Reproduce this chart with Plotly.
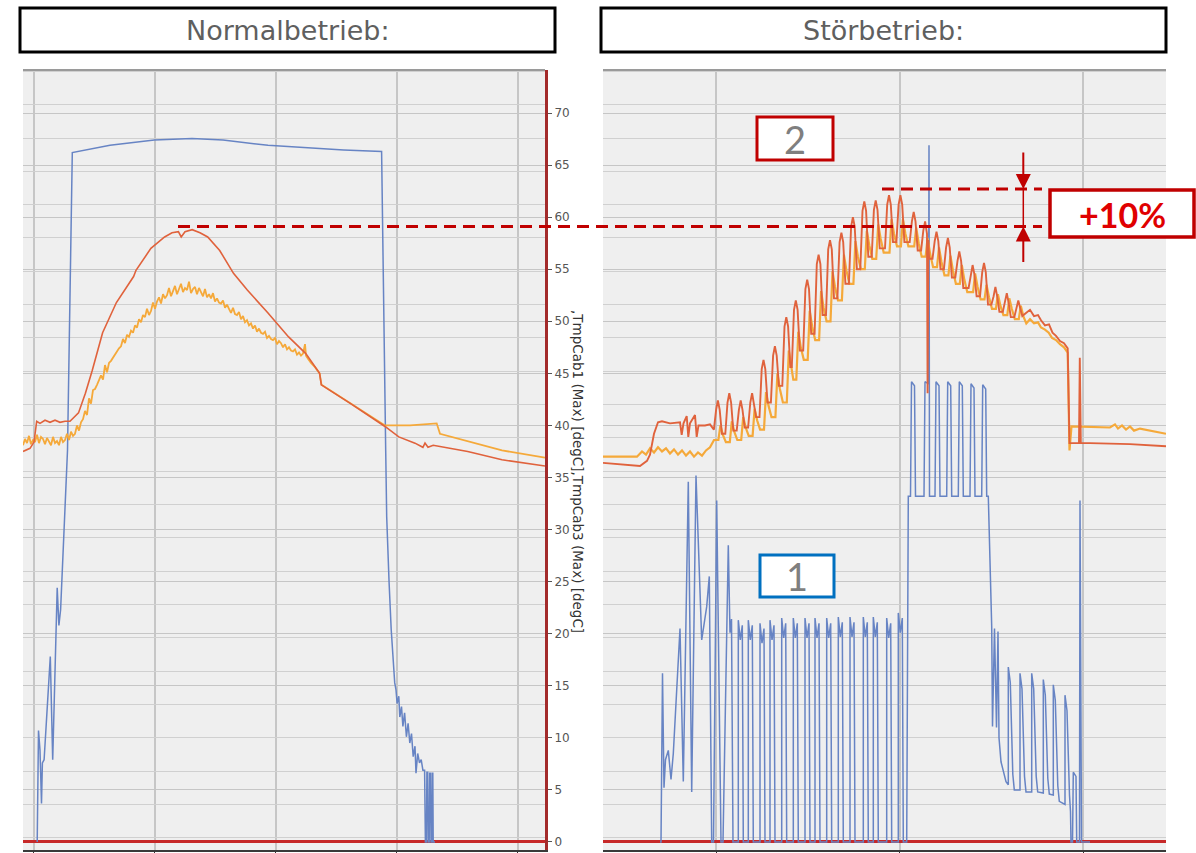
import plotly.graph_objects as go

W, H = 1196, 853

# ---------------- data: left panel "Normalbetrieb" (time, value) ----------------
left_blue = [(17.2,0),(18.5,10.7),(20,8.8),(21.5,3.7),(22.4,7.6),(24.1,7.9),(30.3,17.8),(32.7,7.9),
 (37.2,24.4),(38.9,20.8),(40.6,22.3),(47.5,37.6),(52.3,66.2),(90,66.9),(134.3,67.4),(172,67.55),
 (203,67.4),(248,66.9),(323.7,66.45),(361.6,66.3),(365.7,37.6),(366.7,31.2),(369.1,24.9),(371.2,20.4),
 (374.7,15.3),(376,14.6),(377.1,13.3),(378.8,14.0),(379.8,12.0),(381.5,13.0),(382.9,11.1),(384.6,12.4),
 (386.4,10.1),(388.1,11.4),(389.8,9.5),(391.5,10.4),(393.2,8.2),(395,9.2),(396,6.6),(397.7,8.5),
 (399.5,7.6),(401.2,7.9),(402.9,6.9),(404.6,6.9),(405.4,0),(406.4,0),(406.9,6.7),(407.7,6.7),(408.2,0),
 (409.2,0),(409.7,6.6),(410.5,6.6),(411,0),(411.9,0),(412.3,6.6),(412.8,6.6),(413.2,0),(415,0)]

left_red = [(3,37.5),(10,37.8),(14,38.4),(16.7,40.4),(20,40.2),(25,40.5),(30,40.3),(35,40.5),(40,40.3),
 (45,40.4),(50,40.4),(53,40.7),(58.5,41.2),(65.4,43.1),(72.3,45.3),(82.6,48.9),(96.4,51.8),(113.6,54.3),
 (116,54.9),(130.9,57.0),(144.6,58.1),(152,58.5),(158.4,58.6),(161.2,58.1),(165,58.6),(172.2,58.8),
 (180,58.5),(187.7,58.1),(199.7,56.8),(213.5,54.6),(227.3,53.0),(248,50.8),(268.6,48.5),(285.8,46.9),
 (299.6,45.0),(301.3,43.9),(330.6,42.1),(365,39.9),(378.8,38.9),(395,38.3),(402.9,37.9),(405,38.3),
 (408,37.9),(413.2,38.1),(447.7,37.5),(482,36.7),(525,36.1)]

left_orange = [(3,38.1),(5,38.7),(7,38.3),(9,39.0),(11,38.2),(13,38.6),(15,38.4),(17,39.1),(19,38.3),
 (21,38.9),(23,38.7),(25,38.2),(27,38.8),(29,38.4),(31,38.1),(33,38.9),(35,38.3),(37,38.5),(39,38.1),
 (41,38.9),(43,38.4),(45,38.6),(47,39.2),(49,38.6),(51,39.4),(53,39.0),(55,39.2),(57,40.0),(59,39.5),
 (61,40.3),(63,40.6),(65,41.4),(67,41.0),(69,42.6),(71,42.1),(73,43.4),(75,43.5),(77,43.9),(79,44.3),
 (81,44.8),(83,44.4),(85,45.8),(87,45.1),(89,46.0),(91,46.2),(93,46.5),(95,46.9),(97,47.1),(99,47.4),
 (101,47.6),(103,48.3),(105,47.9),(107,48.7),(109,48.5),(111,49.1),(113,48.9),(115,49.6),(117,49.4),
 (119,50.2),(121,49.9),(123,50.6),(125,50.4),(127,51.2),(129,50.6),(131,51.0),(133,51.8),(135,51.2),
 (137,51.9),(139,52.3),(141,51.7),(143,52.6),(145,52.2),(147,52.5),(149,53.2),(151,52.4),(153,52.9),
 (155,53.4),(157,52.6),(159,53.1),(161,53.6),(163,52.8),(165,53.2),(167,53.0),(169,53.8),(171,52.7),
 (173,53.1),(175,53.3),(177,52.6),(179,53.2),(181,52.8),(183,52.4),(185,53.1),(187,52.3),(189,52.6),
 (191,52.2),(193,52.7),(195,51.9),(197,52.2),(199,51.8),(201,51.7),(203,52.0),(205,51.3),(207,51.6),
 (209,51.2),(211,50.8),(213,51.3),(215,50.7),(217,50.6),(219,50.9),(221,50.2),(223,50.5),(225,49.9),
 (227,50.1),(229,49.6),(231,49.8),(233,49.3),(235,49.6),(237,49.0),(239,49.3),(241,48.9),(243,48.8),
 (245,49.0),(247,48.4),(249,48.6),(251,48.3),(253,48.2),(255,48.4),(257,47.8),(259,48.1),(261,47.9),
 (263,47.5),(265,47.8),(267,47.3),(269,47.5),(271,47.2),(273,47.1),(275,47.3),(277,46.8),(279,47.0),
 (281,46.7),(283,46.9),(285,47.8),(286,46.7),(288,46.4),(291,46.0),(295,45.6),(299.6,45.0),(301.5,43.9),
 (330.6,42.1),(365,40.0),(390,40.0),(405,40.1),(416.7,40.2),(420,39.2),(450,38.4),(482,37.6),(525,36.9)]

# ---------------- data: right panel "Störbetrieb" (time, value) ----------------
right_blue = [(60,0),(61,0),(62.5,16.2),(64,5.2),(65.5,7.9),(68.3,8.8),(71,6.0),(73.3,8.5),(80,20.5),
 (83.3,5.8),(88.3,34.6),(91.7,4.8),(96,35.2),(101.7,19.4),(106.7,22.6),(109.3,25.5),(111.7,0),(113.5,0),
 (116.7,32.8),(121,0),(123,0),(128.3,28.5),(130,20.1),(131.5,21.4),(133,0),
 (138.3,0),(138.3,21.3),(140.3,19.4),(142.3,20.8),(143.3,0),
 (148.3,0),(148.3,21.3),(150.3,19.4),(152.3,20.8),(153.3,0),
 (160,0),(160,21.0),(162,19.1),(164,20.5),(165,0),
 (170,0),(170,21.3),(172,19.4),(174,20.8),(175,0),
 (181.7,0),(181.7,21.5),(183.7,19.6),(185.7,21.0),(186.7,0),
 (193.3,0),(193.3,21.5),(195.3,19.6),(197.3,21.0),(198.3,0),
 (205,0),(205,21.5),(207,19.6),(209,21.0),(210,0),
 (215,0),(215,21.5),(217,19.6),(219,21.0),(220,0),
 (226.7,0),(226.7,21.5),(228.7,19.6),(230.7,21.0),(231.7,0),
 (238.3,0),(238.3,21.6),(240.3,19.7),(242.3,21.1),(243.3,0),
 (250,0),(250,21.6),(252,19.7),(254,21.1),(255,0),
 (263.3,0),(263.3,21.6),(265.3,19.7),(267.3,21.1),(268.3,0),
 (273.3,0),(273.3,21.6),(275.3,19.7),(277.3,21.1),(278.3,0),
 (286.7,0),(286.7,21.5),(288.7,19.6),(290.7,21.0),(291.7,0),
 (298.3,0),(298.3,22.0),(300.3,20.1),(302.3,21.5),(303.3,0),
 (306.7,0),(308.3,33.2),
 (310.5,33.2),(311.5,44.2),(314.5,43.8),(315.5,33.2),
 (324,33.2),(325,44.2),(328.5,44.0),(329,66.9),(329.5,33.2),
 (335,33.2),(336,44.2),(339,43.8),(340,33.2),
 (346.7,33.2),(347.7,44.2),(350.7,43.8),(351.7,33.2),
 (358.3,33.2),(359.3,44.2),(362.3,43.8),(363.3,33.2),
 (370,33.2),(371,44.0),(374,43.6),(375,33.2),
 (381.7,33.2),(382.7,43.9),(385.7,43.5),(386.7,33.2),
 (388.3,33.2),(391.7,20.7),(392.5,11.1),(394.5,20.5),(396.5,11.0),(398,20.2),(399,10.0),(401,7.7),
 (403,6.9),(406,5.8),(408.3,5.5),
 (408.3,16.8),(410.3,15.3),(412.8,6.5),(414.3,5.0),(420,5.0),
 (420,16.2),(422,14.7),(424.5,6.3),(426,4.8),(431.7,4.8),
 (431.7,16.2),(433.7,14.7),(436.2,6.3),(437.7,4.8),(443.3,4.7),
 (443.3,15.6),(445.3,14.1),(447.8,6.1),(449.3,4.6),(453.3,4.5),
 (453.3,15.1),(455.3,13.6),(457.8,5.4),(459.3,3.9),(465,3.6),
 (465,14.1),(467,12.6),(469.5,4.5),(470.5,2.9),(471,0),(472.5,0),(473.3,6.7),(476,6.3),(476.7,0),
 (479.5,0),(480,32.8),(481.5,0),(490,0)]

right_red = [(3,36.4),(40,36.1),(47,36.6),(50,37.2),(54,39.2),(58,40.3),(62,40.4),(70,40.2),(80,40.3),
 (81.7,39.1),(83.5,40.2),(86.7,40.9),(88.3,38.9),(90,40.2),(95,41.0),(96.7,38.9),(98.5,40.0),(105,40.0),
 (110,40.1),(113.3,39.6),
 (113.9,39.6),(116.1,41.5),(117.9,42.4),(119.7,41.5),(121.9,39.2),
 (125.3,39.2),(127.5,42.2),(129.3,43.1),(131.1,42.2),(133.3,39.5),
 (136.7,39.5),(138.9,41.5),(140.7,42.4),(142.5,41.5),(144.7,39.8),
 (148.1,39.8),(150.3,42.2),(152.1,43.1),(153.9,42.2),(156.1,40.8),
 (159.5,40.8),(161.7,45.4),(163.5,46.3),(165.3,45.4),(167.5,42.2),
 (170.9,42.2),(173.1,46.7),(174.9,47.6),(176.7,46.7),(178.9,43.8),
 (182.3,43.8),(184.5,49.5),(186.3,50.4),(188.1,49.5),(190.3,45.6),
 (191.8,45.6),(194.0,51.1),(195.8,52.0),(197.6,51.1),(199.8,47.2),
 (203.2,47.2),(205.4,53.1),(207.2,54.0),(209.0,53.1),(211.2,48.8),
 (214.6,48.8),(216.8,55.5),(218.6,56.4),(220.4,55.5),(222.6,50.6),
 (226,50.6),(228.2,56.9),(230,57.8),(231.8,56.9),(234,52.2),
 (237.4,52.2),(239.6,57.6),(241.4,58.5),(243.2,57.6),(245.4,53.6),
 (248.9,53.6),(251.1,59.1),(252.9,60.0),(254.7,59.1),(256.9,55.0),
 (260.3,55.0),(262.5,60.6),(264.3,61.5),(266.1,60.6),(268.3,56.2),
 (271.7,56.2),(273.9,60.7),(275.7,61.6),(277.5,60.7),(279.7,57.0),
 (285,57.0),(287.2,61.2),(289,62.1),(290.8,61.2),(293,57.6),
 (296.4,57.6),(298.6,61.2),(300.4,62.1),(302.2,61.2),(304.4,57.6),
 (309.7,57.6),(311.9,59.6),(313.7,60.5),(315.5,59.6),(317.7,56.8),
 (321.1,56.8),(323.3,58.7),(325.1,59.6),(326.6,58.8),(327.0,58.4),(327.6,43.1),(328.3,57.8),(329.1,56.0),
 (332.5,56.0),(334.7,57.7),(336.5,58.6),(338.3,57.7),(340.5,55.0),
 (343.9,55.0),(346.1,57.1),(347.9,58.0),(349.7,57.1),(351.9,54.2),
 (355.3,54.2),(357.5,55.8),(359.3,56.7),(361.1,55.8),(363.3,53.2),
 (368.6,53.2),(370.8,54.5),(372.6,55.4),(374.4,54.5),(376.6,52.4),
 (380,52.4),(382.2,54.7),(384,55.6),(385.8,54.7),(388,51.6),
 (391.4,51.6),(393.6,52.4),(395.4,53.3),(397.2,52.4),(399.4,50.9),
 (402.8,50.9),(405.0,51.8),(406.8,52.7),(408.6,51.8),(410.8,50.4),
 (414.3,50.4),(416.5,51.3),(418.3,52.0),(420.1,51.3),(422.3,50.5),
 (426,50.8),(430,51.1),(434,50.5),(438,50.6),(441,50.1),(445,49.6),(449,49.7),(452.5,48.9),(456,48.6),
 (460,48.1),(464,47.9),(467.7,47.4),(469.5,38.3),(479,38.3),(479.8,46.5),(480.8,38.3),(490,38.3),
 (530,38.2),(566,38.0)]

right_orange = [(3,37.0),(20,37.0),(37,37.0),(42,37.5),(46,37.2),(50,37.8),(54,37.4),(58,37.9),(62,37.5),
 (66,37.8),(70,37.3),(74,37.7),(78,37.2),(82,37.6),(86,37.1),(90,37.5),(94,37.0),(98,37.4),(102,37.1),
 (106,37.6),(110,37.9),(114,38.6),
 (118.4,38.6),(120.4,40.0),(122.9,39.1),(125.9,38.4),
 (129.8,38.4),(131.8,40.4),(134.3,39.4),(137.3,38.6),
 (141.2,38.6),(143.2,40.8),(145.7,39.8),(148.7,39.0),
 (152.6,39.0),(154.6,41.6),(157.1,40.5),(160.1,39.6),
 (164.0,39.6),(166.0,43.2),(168.5,41.9),(171.5,40.8),
 (175.4,40.8),(177.4,45.0),(179.9,43.5),(182.9,42.2),
 (186.8,42.2),(188.8,47.2),(191.3,45.6),(193.3,44.4),
 (196.3,44.4),(198.3,49.0),(200.8,47.5),(203.8,46.3),
 (207.7,46.3),(209.7,51.0),(212.2,49.5),(215.2,48.2),
 (219.1,48.2),(221.1,52.9),(223.6,51.3),(226.6,50.0),
 (230.5,50.0),(232.5,54.8),(235.0,53.3),(238.0,52.0),
 (241.9,52.0),(243.9,56.4),(246.4,54.9),(249.4,53.6),
 (253.4,53.6),(255.4,57.7),(257.9,56.2),(260.9,55.0),
 (264.8,55.0),(266.8,58.7),(269.3,57.3),(272.3,56.0),
 (276.2,56.0),(278.2,59.3),(280.7,57.9),(283.7,56.6),
 (289.5,56.6),(291.5,59.8),(294.0,58.4),(297.0,57.2),
 (300.9,57.2),(302.9,59.8),(305.4,58.4),(308.4,57.2),
 (314.2,57.2),(316.2,59.0),(318.7,57.5),(321.7,56.2),
 (325.6,56.2),(327.6,58.0),(330.1,56.5),(333.1,55.2),
 (337.0,55.2),(339.0,57.1),(341.5,55.7),(344.5,54.4),
 (348.4,54.4),(350.4,56.3),(352.9,54.9),(355.9,53.6),
 (359.8,53.6),(361.8,55.4),(364.3,54.0),(367.3,52.8),
 (373.1,52.8),(375.1,54.6),(377.6,53.3),(380.6,52.1),
 (384.5,52.1),(386.5,53.5),(389.0,52.3),(392.0,51.2),
 (395.9,51.2),(397.9,52.6),(400.4,51.5),(403.4,50.6),
 (407.3,50.6),(409.3,52.2),(411.8,51.2),(414.8,50.2),
 (418.8,50.2),(420.8,51.5),(423.3,50.5),(426.3,49.8),
 (430,50.2),(434,49.8),(438,49.9),(441,49.4),(445,49.2),(448.7,48.9),(452,48.4),(456,48.2),(460,47.8),
 (464,47.5),(467.7,47.0),(469.5,37.6),(471.5,39.9),(510,39.8),(515,40.1),(518,39.7),(522,40.0),
 (526,39.6),(530,39.9),(534,39.5),(540,39.7),(566,39.2)]

y_ticks = list(range(0, 75, 5))
y_range = [-0.77, 74.13]
peak_normal = 59.1     # dashed reference: peak in normal operation
peak_fault = 62.7      # dashed reference: peak in fault operation

titles = ["Normalbetrieb:", "Störbetrieb:"]
axis_title = ",TmpCab1 (Max) [degC],TmpCab3 (Max) [degC]"

BLUE, RED, ORANGE = "#6784c4", "#e0623c", "#f5a93a"
DARKRED = "#c00000"

def xs(p): return [a for a, b in p]
def ys(p): return [b for a, b in p]

fig = go.Figure()
series = [
    (left_blue, BLUE, 1.5, "x", "y"),
    (left_orange, ORANGE, 1.8, "x", "y"),
    (left_red, RED, 1.6, "x", "y"),
    (right_blue, BLUE, 1.5, "x2", "y2"),
    (right_orange, ORANGE, 2.2, "x2", "y2"),
    (right_red, RED, 1.9, "x2", "y2"),
]
for pts, col, w, xa, ya in series:
    fig.add_trace(go.Scatter(x=xs(pts), y=ys(pts), mode="lines", line=dict(color=col, width=w),
                             xaxis=xa, yaxis=ya, showlegend=False, hoverinfo="skip"))
# carriers for the secondary grid axes
fig.add_trace(go.Scatter(x=[None], y=[None], xaxis="x", yaxis="y3", showlegend=False, hoverinfo="skip"))
fig.add_trace(go.Scatter(x=[None], y=[None], xaxis="x2", yaxis="y4", showlegend=False, hoverinfo="skip"))

ydom = [1 - 850 / H, 1 - 70 / H]
GRID = "#c6c6c6"
base_y = dict(range=y_range, domain=ydom, tickvals=y_ticks, showgrid=True, gridcolor=GRID, gridwidth=1,
              zeroline=True, zerolinecolor="#c62828", zerolinewidth=3, fixedrange=True)
g2 = [(y_range[0] - 0.4) / 3.2, (y_range[1] - 0.4) / 3.2]
sec_y = dict(range=g2, dtick=1, tick0=0, showgrid=True, gridcolor="#d0d0d0", gridwidth=1,
             showticklabels=False, zeroline=False, ticks="", showline=False, fixedrange=True)
base_x = dict(showgrid=True, gridcolor=GRID, gridwidth=1.5, showticklabels=False, ticks="outside",
              ticklen=4, tickcolor="#333", showline=True, linecolor="#3a3a3a", linewidth=2,
              zeroline=False, fixedrange=True)

fig.update_layout(
    width=W, height=H, margin=dict(l=0, r=0, t=0, b=0),
    paper_bgcolor="white", plot_bgcolor="#efefef",
    xaxis=dict(**base_x, domain=[23 / W, 545 / W], range=[3, 525], tick0=13.8, dtick=121, anchor="y"),
    xaxis2=dict(**base_x, domain=[603 / W, 1166 / W], range=[3, 566], tick0=116, dtick=183.5, anchor="y2"),
    yaxis=dict(**base_y, anchor="x", side="right", showline=True, linecolor="#a32b2b", linewidth=3,
               ticks="outside", ticklen=4, tickcolor="#555",
               tickfont=dict(family="DejaVu Sans", size=12, color="#555")),
    yaxis2=dict(**base_y, anchor="x2", showticklabels=False, ticks=""),
    yaxis3=dict(**sec_y, overlaying="y", anchor="x", side="right"),
    yaxis4=dict(**sec_y, overlaying="y2", anchor="x2", side="right"),
)

shapes = []
# title boxes
for x0, x1 in [(20, 555), (601, 1166)]:
    shapes.append(dict(type="rect", xref="paper", yref="paper", x0=x0 / W, x1=x1 / W,
                       y0=1 - 52 / H, y1=1 - 8 / H, line=dict(color="black", width=3), fillcolor="white"))
# top borders of plots
for xr, yr in [("x domain", "y domain"), ("x2 domain", "y2 domain")]:
    shapes.append(dict(type="line", xref=xr, yref=yr, x0=0, x1=1, y0=1, y1=1,
                       line=dict(color="#9a9a9a", width=2)))
# dashed reference lines
shapes.append(dict(type="line", xref="paper", yref="y", x0=178 / W, x1=1042 / W, y0=peak_normal, y1=peak_normal,
                   line=dict(color=DARKRED, width=3, dash="12px,7px")))
shapes.append(dict(type="line", xref="paper", yref="y", x0=882 / W, x1=1042 / W, y0=peak_fault, y1=peak_fault,
                   line=dict(color=DARKRED, width=3, dash="12px,7px")))
shapes.append(dict(type="line", xref="paper", yref="y", x0=1023.3 / W, x1=1023.3 / W, y0=peak_normal, y1=peak_fault,
                   line=dict(color=DARKRED, width=1.5)))
# label boxes
shapes.append(dict(type="rect", xref="paper", yref="paper", x0=757 / W, x1=833 / W, y0=1 - 160 / H, y1=1 - 117 / H,
                   line=dict(color=DARKRED, width=3), fillcolor="white"))
shapes.append(dict(type="rect", xref="paper", yref="paper", x0=760 / W, x1=834 / W, y0=1 - 597 / H, y1=1 - 555 / H,
                   line=dict(color="#0070c0", width=3), fillcolor="white"))
shapes.append(dict(type="rect", xref="paper", yref="paper", x0=1050 / W, x1=1194 / W, y0=1 - 237 / H, y1=1 - 190 / H,
                   line=dict(color=DARKRED, width=3.5), fillcolor="white"))
fig.update_layout(shapes=shapes)

ann = []
for (x0, x1), t in zip([(20, 555), (601, 1166)], titles):
    ann.append(dict(text=t, xref="paper", yref="paper", x=(x0 + x1) / 2 / W, y=1 - 31 / H, showarrow=False,
                    xanchor="center", yanchor="middle", font=dict(family="DejaVu Sans", size=27, color="#5f5f5f")))
ann.append(dict(text=axis_title, xref="paper", yref="paper", x=578 / W, y=1 - 471 / H, showarrow=False,
                textangle=90, xanchor="center", yanchor="middle",
                font=dict(family="DejaVu Sans", size=13.5, color="#333")))
ann.append(dict(text="2", xref="paper", yref="paper", x=795 / W, y=1 - 139 / H, showarrow=False,
                xanchor="center", yanchor="middle", font=dict(family="Lato", size=38, color="#7f7f7f")))
ann.append(dict(text="1", xref="paper", yref="paper", x=797 / W, y=1 - 576 / H, showarrow=False,
                xanchor="center", yanchor="middle", font=dict(family="Lato", size=38, color="#7f7f7f")))
ann.append(dict(text="<b>+10%</b>", xref="paper", yref="paper", x=1122 / W, y=1 - 214 / H, showarrow=False,
                xanchor="center", yanchor="middle", font=dict(family="Lato", size=34, color="#e00000")))
# arrows
ann.append(dict(text="", xref="paper", yref="y", x=1023.3 / W, y=peak_fault, ax=0, ay=-38, showarrow=True,
                arrowhead=2, arrowsize=1.5, arrowwidth=2, arrowcolor=DARKRED))
ann.append(dict(text="", xref="paper", yref="y", x=1023.3 / W, y=peak_normal, ax=0, ay=37, showarrow=True,
                arrowhead=2, arrowsize=1.5, arrowwidth=2, arrowcolor=DARKRED))
fig.update_layout(annotations=ann)

fig.write_html("out.html", config={"displayModeBar": False},
               post_script="document.body.style.margin='0';document.body.style.overflow='hidden';")
